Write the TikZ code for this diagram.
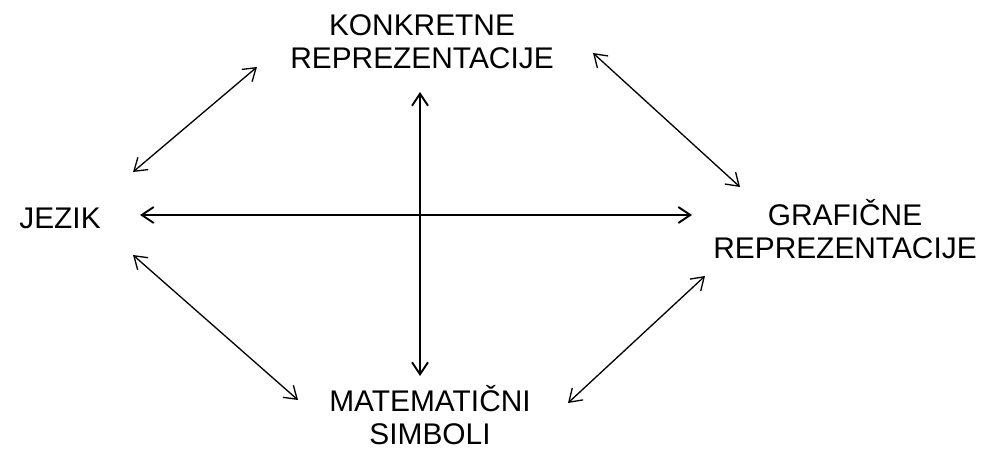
\documentclass[tikz,border=0pt]{standalone}
\usepackage{fontspec}
\setmainfont{Liberation Sans}
\usetikzlibrary{arrows.meta}

\begin{document}
\begin{tikzpicture}
\tikzstyle{pojam}=[align=center,inner sep=0pt,font=\fontsize{17}{18.7}\selectfont]
\tikzstyle{veza}=[{Straight Barb[length=2.4mm,width=3.2mm]}-{Straight Barb[length=2.4mm,width=3.2mm]},line width=.75pt]
\tikzstyle{glavna}=[veza,line width=1.1pt]
\useasboundingbox (0,0) rectangle (19.9,9.06);
\node[pojam] (konkretne) at (8.44,8.23) {KONKRETNE\\REPREZENTACIJE};
\node[pojam] (jezik) at (1.2,4.70) {JEZIK};
\node[pojam] (graficne) at (16.9,4.48) {GRAFIČNE\\REPREZENTACIJE};
\node[pojam] (simboli) at (8.6,0.76) {MATEMATIČNI\\SIMBOLI};
% krst u sredini
\draw[glavna] ([shift={(1.60,0.06)}]jezik.center) -- ([shift={(-3.06,0.28)}]graficne.center);
\draw[glavna] ([shift={(-0.04,-1.01)}]konkretne.center) -- ([shift={(-0.20,0.78)}]simboli.center);
% veze po obodu
\draw[veza] ([shift={(1.46,0.92)}]jezik.center) -- ([shift={(-3.30,-0.51)}]konkretne.center);
\draw[veza] ([shift={(3.42,-0.23)}]konkretne.center) -- ([shift={(-2.10,0.84)}]graficne.center);
\draw[veza] ([shift={(-2.80,-0.94)}]graficne.center) -- ([shift={(2.76,0.24)}]simboli.center);
\draw[veza] ([shift={(1.46,-0.74)}]jezik.center) -- ([shift={(-2.64,0.30)}]simboli.center);
\end{tikzpicture}
\end{document}
